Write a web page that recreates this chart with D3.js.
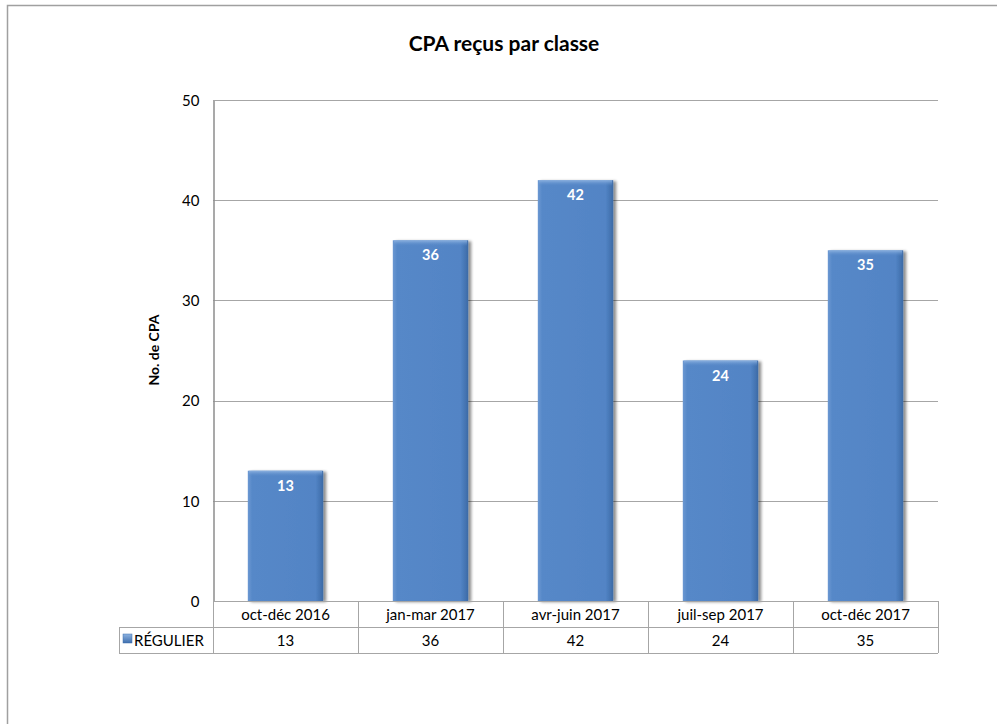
<!DOCTYPE html>
<html>
<head>
<meta charset="utf-8">
<script src="https://cdn.jsdelivr.net/npm/d3@7"></script>
<style>
  html, body { margin: 0; padding: 0; background: #fff; }
  svg { display: block; font-family: Lato, "Open Sans", sans-serif; }
</style>
</head>
<body>
<svg id="chart" width="997" height="724"></svg>
<script>
// Quarterly counts of CPA received, regular class
const categories = ["oct-déc 2016", "jan-mar 2017", "avr-juin 2017", "juil-sep 2017", "oct-déc 2017"];
const seriesName = "RÉGULIER";
const values = [13, 36, 42, 24, 35];
const yTicks = [0, 10, 20, 30, 40, 50];

const svg = d3.select("#chart");
const margin = { left: 213, right: 938, top: 100, bottom: 601 };
const rowH = 26;
const tableLeft = 119;
const gridColor = "#a6a6a6";

// Outer chart frame
svg.append("rect")
  .attr("x", 7.5).attr("y", 5.5).attr("width", 1100).attr("height", 1000)
  .attr("fill", "none").attr("stroke", "#a0a0a0").attr("stroke-width", 1.5);

const defs = svg.append("defs");
const grad = defs.append("linearGradient").attr("id", "barGrad").attr("x1", 0).attr("x2", 1).attr("y1", 0).attr("y2", 0);
grad.append("stop").attr("offset", "0%").attr("stop-color", "#6b98d2");
grad.append("stop").attr("offset", "6%").attr("stop-color", "#5688c8");
grad.append("stop").attr("offset", "90%").attr("stop-color", "#5284c5");
grad.append("stop").attr("offset", "100%").attr("stop-color", "#3c6aa6");
const topGrad = defs.append("linearGradient").attr("id", "topGrad").attr("x1", 0).attr("x2", 0).attr("y1", 0).attr("y2", 1);
topGrad.append("stop").attr("offset", "0%").attr("stop-color", "#8db2e0");
topGrad.append("stop").attr("offset", "100%").attr("stop-color", "#5688c8").attr("stop-opacity", 0);
const shadow = defs.append("filter").attr("id", "shadow").attr("x", "-20%").attr("y", "-5%").attr("width", "150%").attr("height", "115%");
shadow.append("feGaussianBlur").attr("in", "SourceAlpha").attr("stdDeviation", 1.8);
shadow.append("feOffset").attr("dx", 2.5).attr("dy", 1).attr("result", "b");
shadow.append("feComponentTransfer").append("feFuncA").attr("type", "linear").attr("slope", 0.45);
const merge = shadow.append("feMerge");
merge.append("feMergeNode");
merge.append("feMergeNode").attr("in", "SourceGraphic");

const x = d3.scaleBand().domain(categories).range([margin.left, margin.right]).paddingInner(0.48).paddingOuter(0.24);
const xCell = d3.scaleBand().domain(categories).range([margin.left, margin.right]);
const y = d3.scaleLinear().domain([0, 50]).range([margin.bottom, margin.top]);

// Horizontal gridlines
svg.append("g").selectAll("line").data(yTicks.filter(t => t > 0)).join("line")
  .attr("x1", margin.left).attr("x2", margin.right)
  .attr("y1", d => Math.round(y(d)) + 0.5).attr("y2", d => Math.round(y(d)) + 0.5)
  .attr("stroke", gridColor).attr("stroke-width", 1);

// Y axis (labels only, no outer tick marks)
const yAxis = d3.axisLeft(y).tickValues(yTicks).tickSize(0).tickSizeOuter(0).tickPadding(14);
const gy = svg.append("g").attr("transform", `translate(${margin.left + 0.5},0.5)`).call(yAxis);
gy.select(".domain").attr("stroke", "#8c8c8c").attr("stroke-width", 1.5);
gy.selectAll(".tick text").attr("font-size", 15).attr("fill", "#000").attr("font-family", "Lato, sans-serif");

// Bars
const bars = svg.append("g").selectAll("g").data(values).join("g");
bars.append("rect")
  .attr("x", (d, i) => x(categories[i]))
  .attr("y", d => y(d))
  .attr("width", x.bandwidth())
  .attr("height", d => y(0) - y(d))
  .attr("fill", "url(#barGrad)")
  .attr("filter", "url(#shadow)");
bars.append("rect")
  .attr("x", (d, i) => x(categories[i]) + 1)
  .attr("y", d => y(d))
  .attr("width", x.bandwidth() - 2)
  .attr("height", 6)
  .attr("fill", "url(#topGrad)");
bars.append("text")
  .attr("x", (d, i) => x(categories[i]) + x.bandwidth() / 2)
  .attr("y", d => y(d) + 20)
  .attr("text-anchor", "middle")
  .attr("font-size", 14.5).attr("font-weight", "bold").attr("fill", "#fff")
  .text(d => d);

// Data table under the plot
const tbl = svg.append("g").attr("stroke", gridColor).attr("stroke-width", 1);
tbl.append("line").attr("x1", margin.left).attr("x2", margin.right).attr("y1", margin.bottom + 0.5).attr("y2", margin.bottom + 0.5);
tbl.append("line").attr("x1", tableLeft).attr("x2", margin.right).attr("y1", margin.bottom + rowH + 0.5).attr("y2", margin.bottom + rowH + 0.5);
tbl.append("line").attr("x1", tableLeft).attr("x2", margin.right).attr("y1", margin.bottom + 2 * rowH + 0.5).attr("y2", margin.bottom + 2 * rowH + 0.5);
tbl.append("line").attr("x1", tableLeft + 0.5).attr("x2", tableLeft + 0.5).attr("y1", margin.bottom + rowH).attr("y2", margin.bottom + 2 * rowH);
const bounds = categories.map(c => xCell(c)).concat([margin.right]);
tbl.selectAll(".vl").data(bounds).join("line")
  .attr("x1", d => Math.round(d) + 0.5).attr("x2", d => Math.round(d) + 0.5)
  .attr("y1", margin.bottom).attr("y2", margin.bottom + 2 * rowH);

svg.append("g").selectAll("text").data(categories).join("text")
  .attr("x", d => xCell(d) + xCell.bandwidth() / 2)
  .attr("y", margin.bottom + 18.5)
  .attr("text-anchor", "middle").attr("font-size", 15).attr("fill", "#000")
  .text(d => d);
svg.append("g").selectAll("text").data(values).join("text")
  .attr("x", (d, i) => xCell(categories[i]) + xCell.bandwidth() / 2)
  .attr("y", margin.bottom + rowH + 18.5)
  .attr("text-anchor", "middle").attr("font-size", 15).attr("fill", "#000")
  .text(d => d);

// Legend key in the table
const keyGrad = defs.append("linearGradient").attr("id", "keyGrad").attr("x1", 0).attr("x2", 0).attr("y1", 0).attr("y2", 1);
keyGrad.append("stop").attr("offset", "0%").attr("stop-color", "#8db2e0");
keyGrad.append("stop").attr("offset", "100%").attr("stop-color", "#3f6fae");
svg.append("rect").attr("x", 123).attr("y", margin.bottom + rowH + 7).attr("width", 9).attr("height", 9)
  .attr("fill", "url(#keyGrad)").attr("stroke", "#3f6fae").attr("stroke-width", 0.5);
svg.append("text").attr("x", 134).attr("y", margin.bottom + rowH + 18.5)
  .attr("font-size", 15).attr("fill", "#000").text(seriesName);

// Title and axis title
svg.append("text").attr("x", 504).attr("y", 51).attr("text-anchor", "middle")
  .attr("font-size", 21).attr("font-weight", "bold").attr("fill", "#000")
  .text("CPA reçus par classe");
svg.append("text").attr("transform", "translate(159,350) rotate(-90)")
  .attr("text-anchor", "middle").attr("font-size", 14).attr("font-weight", "bold").attr("fill", "#000")
  .text("No. de CPA");
</script>
</body>
</html>
